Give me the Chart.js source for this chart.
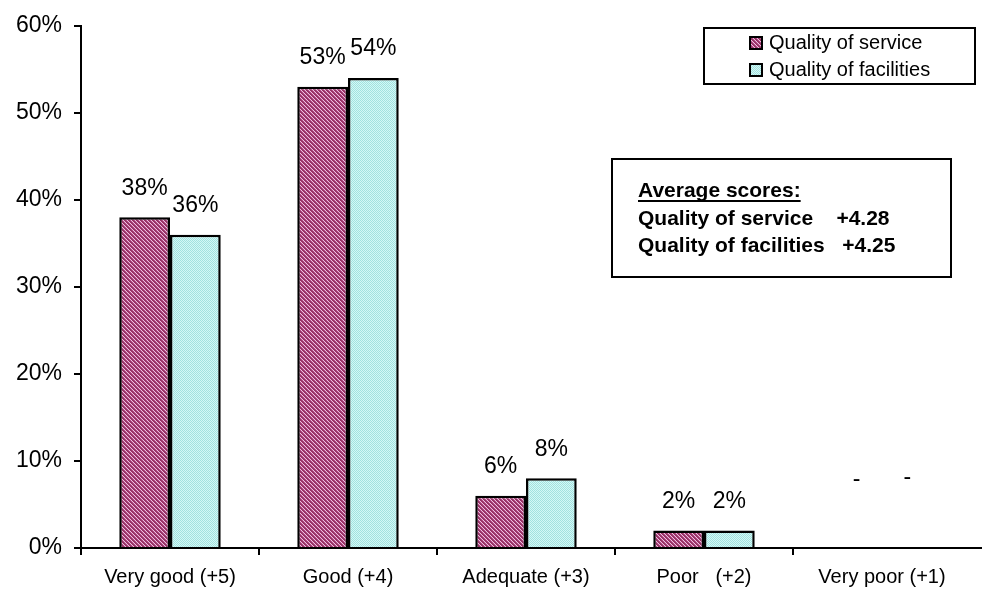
<!DOCTYPE html>
<html>
<head>
<meta charset="utf-8">
<script src="https://cdn.jsdelivr.net/npm/chart.js@4/dist/chart.umd.min.js"></script>
<style>
  body { margin: 0; background: #fff; }
  #wrap { width: 982px; height: 591px; }
</style>
</head>
<body>
<div id="wrap"><canvas id="grafica"></canvas></div>
<script>
// datos
var categorias = ['Very good (+5)', 'Good (+4)', 'Adequate (+3)', 'Poor   (+2)', 'Very poor (+1)'];
var servicio = [38, 53, 6, 2, 0];
var instalaciones = [36, 54, 8, 2, 0];
var series = ['Quality of service', 'Quality of facilities'];
var promedios = ['+4.28', '+4.25'];
var ticksY = [0, 10, 20, 30, 40, 50, 60];

// patrones de relleno (rayado y punteado)
function patronRayas() {
    var c = document.createElement('canvas');
    c.width = 4; c.height = 4;
    var g = c.getContext('2d');
    var cols = ['#993366', '#993366', '#b0508a', '#f0c0e0'];
    for (var x = 0; x < 4; x++) {
        for (var y = 0; y < 4; y++) {
            g.fillStyle = cols[(x - y + 8) % 4];
            g.fillRect(x, y, 1, 1);
        }
    }
    return g.createPattern(c, 'repeat');
}
function patronPuntos() {
    var c = document.createElement('canvas');
    c.width = 2; c.height = 2;
    var g = c.getContext('2d');
    g.fillStyle = '#d4f8f6';
    g.fillRect(0, 0, 2, 2);
    g.fillStyle = '#a2e2df';
    g.fillRect(0, 0, 1, 1);
    g.fillRect(1, 1, 1, 1);
    return g.createPattern(c, 'repeat');
}
var relleno1 = patronRayas();
var relleno2 = patronPuntos();

// etiquetas encima de cada barra
var etiquetas = {
    id: 'etiquetas',
    afterDatasetsDraw: function (chart) {
        var ctx = chart.ctx;
        ctx.save();
        ctx.fillStyle = '#000';
        ctx.font = '23px "Liberation Sans", Arial, sans-serif';
        ctx.textAlign = 'center';
        ctx.textBaseline = 'middle';
        chart.data.datasets.forEach(function (ds, i) {
            chart.getDatasetMeta(i).data.forEach(function (el, j) {
                var v = ds.data[j];
                if (v > 0) {
                    ctx.fillText(v + '%', el.x, el.y - 29);
                } else {
                    ctx.fillText('-', el.x, el.y - 68 - i * 2);
                }
            });
        });
        ctx.restore();
    }
};

// leyenda, cuadro de promedios y eje x hasta el borde
var cuadros = {
    id: 'cuadros',
    afterDraw: function (chart) {
        var ctx = chart.ctx;
        var a = chart.chartArea;
        ctx.save();
        ctx.strokeStyle = '#000';
        ctx.lineWidth = 2;
        ctx.beginPath();
        ctx.moveTo(a.right - 1, a.bottom);
        ctx.lineTo(chart.width, a.bottom);
        ctx.stroke();
        // leyenda
        ctx.fillStyle = '#fff';
        ctx.fillRect(704, 28, 271, 56);
        ctx.strokeRect(704, 28, 271, 56);
        ctx.font = '20px "Liberation Sans", Arial, sans-serif';
        ctx.textBaseline = 'middle';
        var rellenos = [relleno1, relleno2];
        for (var i = 0; i < series.length; i++) {
            var y = 43 + i * 27;
            ctx.fillStyle = rellenos[i];
            ctx.fillRect(750, y - 6, 12, 12);
            ctx.strokeRect(750, y - 6, 12, 12);
            ctx.fillStyle = '#000';
            ctx.fillText(chart.data.datasets[i].label, 769, y);
        }
        // promedios
        ctx.fillStyle = '#fff';
        ctx.fillRect(612, 159, 339, 118);
        ctx.strokeRect(612, 159, 339, 118);
        ctx.fillStyle = '#000';
        ctx.font = 'bold 21px "Liberation Sans", Arial, sans-serif';
        ctx.fillText('Average scores:', 638, 191);
        var w = ctx.measureText('Average scores:').width;
        ctx.fillRect(638, 200, w, 2);
        ctx.fillText(series[0] + '    ' + promedios[0], 638, 219);
        ctx.fillText(series[1] + '   ' + promedios[1], 638, 246);
        ctx.restore();
    }
};

var grafica = new Chart(document.getElementById('grafica'), {
    type: 'bar',
    data: {
        labels: categorias,
        datasets: [{
            label: series[0],
            data: servicio,
            backgroundColor: relleno1,
            borderColor: '#000',
            borderWidth: 2.5
        }, {
            label: series[1],
            data: instalaciones,
            backgroundColor: relleno2,
            borderColor: '#000',
            borderWidth: 2.5
        }]
    },
    options: {
        responsive: true,
        maintainAspectRatio: false,
        animation: false,
        layout: { padding: { top: 21, right: 11, left: 0, bottom: 0 } },
        datasets: { bar: { categoryPercentage: 0.57, barPercentage: 1 } },
        plugins: { legend: { display: false }, tooltip: { enabled: false } },
        scales: {
            x: {
                grid: {
                    drawOnChartArea: false, drawTicks: true, tickLength: 7, lineWidth: 2, offset: true,
                    // sin marca al final del eje
                    color: function (c) { return c.type === 'tick' ? '#000' : 'rgba(0,0,0,0)'; }
                },
                border: { color: '#000', width: 2 },
                ticks: { color: '#000', font: { size: 20, family: '"Liberation Sans", Arial, sans-serif' }, padding: 10, maxRotation: 0 },
                afterFit: function (s) { s.height = 43; }
            },
            y: {
                min: 0,
                max: 60,
                afterBuildTicks: function (s) { s.ticks = ticksY.map(function (v) { return { value: v }; }); },
                grid: { drawOnChartArea: false, drawTicks: true, tickLength: 7, color: '#000', lineWidth: 2 },
                border: { color: '#000', width: 2 },
                ticks: {
                    color: '#000',
                    font: { size: 23, family: '"Liberation Sans", Arial, sans-serif' },
                    padding: 12,
                    callback: function (v) { return v + '%'; }
                },
                afterFit: function (s) { s.width = 81; }
            }
        }
    },
    plugins: [etiquetas, cuadros]
});
</script>
</body>
</html>
